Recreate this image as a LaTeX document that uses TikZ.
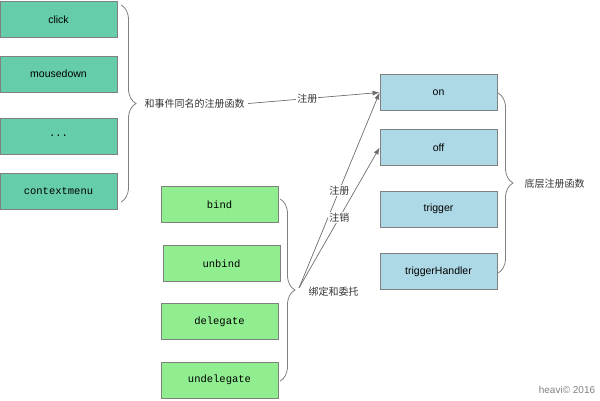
\documentclass[tikz,border=0pt]{standalone}
\usepackage{fontspec}
\setsansfont{Liberation Sans}
\setmonofont{Liberation Mono}
\newfontfamily\cjk{Noto Sans CJK SC}
\usepackage{tikz}
\usetikzlibrary{positioning, arrows.meta, calc, decorations.pathreplacing}
\definecolor{EventColor}{RGB}{102,205,170}
\definecolor{BaseColor}{RGB}{173,216,230}
\definecolor{BindColor}{RGB}{144,238,144}
\definecolor{EdgeGray}{RGB}{128,128,128}
\definecolor{LineGray}{RGB}{110,110,110}
\definecolor{TextGray}{RGB}{51,51,51}

\begin{document}
\begin{tikzpicture}[x=1pt, y=-1pt,
    box/.style={draw=EdgeGray, line width=0.8pt, minimum width=117pt, minimum height=36pt, inner sep=0pt},
    evtbox/.style={box, fill=EventColor},
    basebox/.style={box, fill=BaseColor},
    bindbox/.style={box, fill=BindColor},
    sanstext/.style={font=\sffamily\fontsize{10.5}{12}\selectfont},
    monotext/.style={font=\ttfamily\fontsize{10.5}{12}\selectfont},
    cjktext/.style={font=\cjk\fontsize{10}{12}\selectfont, text=TextGray},
    brace/.style={draw=EdgeGray, line width=0.8pt, decorate, decoration={brace, amplitude=15pt}},
    arrow/.style={draw=LineGray, line width=0.7pt, -{Latex[length=7pt, width=5pt]}},
    tag/.style={cjktext, fill=white, inner sep=1pt}]
  \useasboundingbox (0,0) rectangle (600,400);
  % event names
  \node[evtbox, sanstext] (click) at (58.5,19.5) {click};
  \node[evtbox, sanstext] (mousedown) at (58.5,74) {mousedown};
  \node[evtbox, monotext] (dots) at (58.5,136) {...};
  \node[evtbox, monotext] (contextmenu) at (58.5,191) {contextmenu};
  % low level functions
  \node[basebox, sanstext] (on) at (438.5,92.5) {on};
  \node[basebox, sanstext] (off) at (438.5,147.5) {off};
  \node[basebox, sanstext] (trigger) at (438.5,209) {trigger};
  \node[basebox, sanstext] (triggerHandler) at (438.5,271.5) {triggerHandler};
  % bind and delegate
  \node[bindbox, monotext] (bind) at (219.5,204.5) {bind};
  \node[bindbox, monotext] (unbind) at (221.5,263.5) {unbind};
  \node[bindbox, monotext] (delegate) at (219.5,321.5) {delegate};
  \node[bindbox, monotext] (undelegate) at (219.5,380) {undelegate};
  % braces
  \draw[brace] (121,5) -- (121,202);
  \coordinate (evttip) at (136,103.5);
  \draw[brace] (498,93) -- (498,273);
  \coordinate (basetip) at (513,183);
  \draw[brace] (280,199) -- (280,381);
  \coordinate (bindtip) at (299,288);
  \node[cjktext, anchor=west] (evtlabel) at (141,103.5) {和事件同名的注册函数};
  \node[cjktext, anchor=west] (baselabel) at (521,184) {底层注册函数};
  \node[cjktext, anchor=west] (bindlabel) at (305,292) {绑定和委托};
  % connectors
  \draw[arrow] (evtlabel.east) -- (on.west) node[tag, pos=0.45] {注册};
  \draw[arrow] (bindtip) -- (on.west) node[tag, pos=0.5] {注册};
  \draw[arrow] (bindtip) -- (off.west) node[tag, pos=0.5] {注销};
  \node[font=\sffamily\fontsize{10}{12}\selectfont, text=gray] (credit) at (567,390) {heavi© 2016};
\end{tikzpicture}
\end{document}
